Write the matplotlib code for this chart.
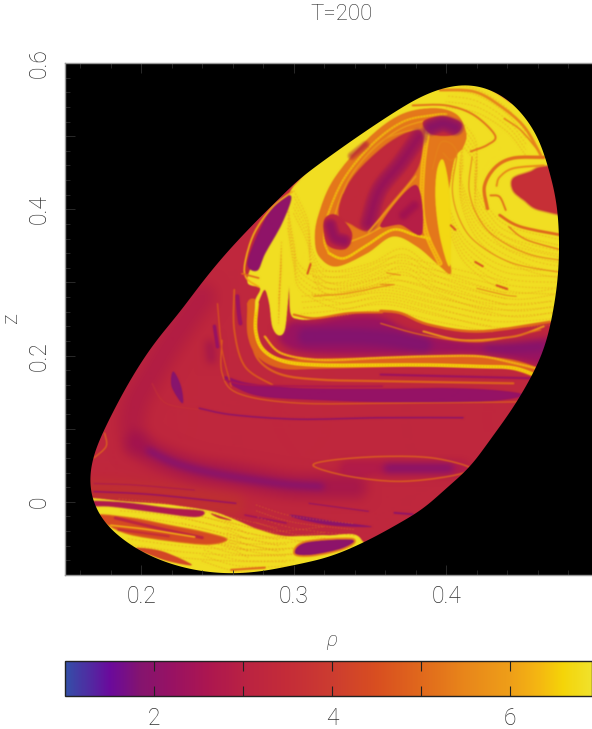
import numpy as np
import matplotlib
matplotlib.use("Agg")
import matplotlib.pyplot as plt
from matplotlib.figure import Figure
from matplotlib.backends.backend_agg import FigureCanvasAgg
from matplotlib.path import Path
from matplotlib.patches import PathPatch
from matplotlib.colors import LinearSegmentedColormap, Normalize
from matplotlib.cm import ScalarMappable
from matplotlib.ticker import MultipleLocator, FixedLocator, FixedFormatter

W, H = 592, 729
plt.rcParams['font.family'] = ['Roboto', 'Liberation Sans', 'DejaVu Sans']
plt.rcParams['font.weight'] = 'light'
TXT = '#2e2e2e'

# colour scale
CB_VALUES = [1.0, 1.5, 1.84, 2.2, 2.6, 3.1, 3.5, 4.0, 4.5, 5.0, 5.5, 6.0, 6.3, 6.6, 6.92]
CB_COLORS = ['#3350a8', '#6a0a9c', '#84146f', '#981263', '#ac1650', '#bc2440', '#c42c38', '#cc3c30',
             '#d84e20', '#e0681c', '#e8861a', '#ee9e18', '#f4b412', '#f4d408', '#f0e22c']
VMIN, VMAX = 1.0, 6.92
CB_TICKS = [2, 3, 4, 5, 6]
CB_LABELS = ['2', '', '4', '', '6']
X_TICKS = [0.2, 0.3, 0.4]
Y_TICKS = [-0.1, 0.0, 0.1, 0.2, 0.3, 0.4, 0.5, 0.6]
Y_LABELS = ['', '0', '', '0.2', '', '0.4', '', '0.6']

# density-region outlines, (rho, z)
BOUNDARY = [(.1660,.039),(.1665,.017),(.1675,.005),(.176,-.029),(.196,-.063),(.218,-.084),(.240,-.095),(.260,-.098),
            (.279,-.095),(.301,-.086),(.325,-.074),(.354,-.047),(.369,-.029),(.385,-.0097),(.400,.019),(.415,.046),
            (.427,.080),(.440,.117),(.449,.146),(.457,.176),(.464,.208),(.469,.249),(.473,.303),(.474,.358),
            (.472,.413),(.466,.463),(.460,.499),(.449,.533),(.435,.558),(.416,.571),(.400,.567),(.387,.558),
            (.370,.538),(.348,.508),(.326,.476),(.304,.442),(.295,.424),(.270,.372),(.248,.321),(.222,.251),
            (.210,.221),(.193,.167),(.176,.100),(.169,.066)]
BRIGHT_TOP = [(.358,.260),(.336,.257),(.314,.250),(.303,.250),(.298,.258),(.297,.294),(.296,.271),(.294,.235),(.290,.228),
              (.286,.240),(.284,.271),(.281,.290),(.277,.274),(.275,.258),(.275,.276),(.278,.292),(.270,.299),(.272,.320),
              (.281,.350),(.292,.390),(.298,.425),(.306,.445),(.33,.50),(.36,.62),(.50,.62),(.50,.245),(.468,.246),
              (.422,.233),(.389,.242),(.370,.258)]
VORTEX_OUT = [(.413,.504),(.407,.529),(.392,.538),(.370,.529),(.348,.495),(.326,.440),(.316,.390),(.314,.358),(.317,.335),
              (.328,.322),(.348,.340),(.365,.363),(.381,.349),(.396,.322),(.403,.313),(.401,.349),(.401,.403),(.403,.445),
              (.406,.472),(.411,.485)]
WEDGE = [(.394,.453),(.398,.467),(.402,.426),(.403,.367),(.402,.322),(.396,.362),(.393,.413)]
WEDGE_STRIP = [(.388,.508),(.385,.463),(.384,.408),(.387,.367),(.396,.326)]
HOOK = [(.391,.455),(.396,.490),(.403,.490),(.407,.477),(.403,.467),(.398,.477)]
RING_A = [(.400,.530),(.392,.529),(.372,.520),(.352,.490),(.333,.442),(.322,.390),(.320,.358),(.323,.340)]
RING_A2 = [(.395,.525),(.372,.512),(.352,.482),(.336,.440),(.327,.392),(.326,.360)]
RING_B = [(.323,.340),(.333,.333),(.348,.351),(.365,.372),(.379,.365),(.389,.360)]
RING_C = [(.328,.349),(.346,.363),(.365,.381),(.385,.372)]
RING_D = [(.383,.511),(.359,.495),(.340,.454),(.332,.422)]
LEAF = [(.383,.506),(.374,.504),(.359,.485),(.341,.449),(.332,.417),(.330,.390),(.337,.381),(.349,.372),(.361,.403),
        (.379,.449),(.384,.481)]
LEAF_CORE = [(.382,.499),(.370,.463),(.356,.426),(.349,.381)]
DIAGONAL = [(.349,.369),(.363,.403),(.380,.445)]
TRI = [(.357,.379),(.380,.433),(.384,.367),(.370,.379)]
TRI_DARK = [(.372,.392),(.379,.405)]
FOOT = [(.320,.385),(.322,.352),(.334,.346),(.338,.368),(.328,.392)]
FOOT_LINE = [(.324,.378),(.327,.362),(.333,.357)]
TOP_POLY = [(.385,.520),(.398,.527),(.410,.517),(.405,.502),(.390,.503)]
TOP_LINE = [(.390,.512),(.398,.517),(.406,.512)]
UP_DARK = [(.338,.473),(.347,.488)]
EYE = [(.444,.442),(.455,.451),(.464,.458),(.49,.458),(.49,.395),(.462,.399),(.451,.413),(.444,.426)]
SWIRL = [(.464,.471),(.444,.470),(.432,.457),(.425,.431),(.427,.401)]
SWIRL_IN = [(.464,.460),(.444,.456),(.435,.444),(.433,.432)]
SWIRL_HOOK = [(.429,.419),(.435,.417),(.439,.399)]
LOW_SW = [(.435,.392),(.449,.376),(.48,.363)]
LOW_SW2 = [(.441,.376),(.453,.358),(.48,.342)]
S_CURVE = [(.378,.542),(.400,.542),(.418,.529),(.432,.501),(.427,.488),(.416,.479)]
RIM = [(.396,.563),(.418,.561),(.435,.542),(.451,.513),(.462,.474)]
RIM_OUT = [(.407,.574),(.420,.574),(.433,.562),(.443,.548)]
RIM_IN = [(.438,.524),(.449,.508),(.460,.481)]
FLOW_LINES = [[(.407,.472),(.404,.426),(.409,.385),(.420,.354),(.444,.326),(.48,.312)],
              [(.417,.472),(.415,.426),(.422,.385),(.435,.358),(.455,.338),(.48,.329)],
              [(.420,.292),(.438,.283),(.446,.281)],
              [(.313,.281),(.335,.285),(.357,.294),(.366,.297)],
              [(.361,.313),(.370,.310)],
              [(.357,.297),(.365,.297)]]
BLOTCHES = [[(.419,.328),(.424,.322)], [(.403,.378),(.406,.372)], [(.433,.296),(.440,.291)], [(.309,.312),(.311,.325)]]
GRAIN_UP = [[(.411,.476),(.409,.435),(.416,.390),(.429,.358),(.455,.331),(.48,.320)],
            [(.412,.500),(.420,.472),(.419,.420),(.428,.385),(.442,.360),(.48,.340)],
            [(.400,.555),(.420,.548),(.440,.522),(.452,.490)],
            [(.405,.470),(.399,.420),(.405,.370),(.416,.335),(.440,.305),(.48,.300)],
            [(.300,.410),(.309,.370),(.312,.330),(.322,.300),(.350,.310),(.372,.330),(.395,.300),(.440,.270),(.47,.275)],
            [(.296,.390),(.300,.340),(.305,.305),(.330,.280),(.360,.290),(.390,.275),(.430,.255),(.47,.258)],
            [(.305,.265),(.330,.270),(.360,.278),(.395,.262),(.430,.248)],
            [(.292,.340),(.291,.300),(.290,.260)],
            [(.312,.300),(.340,.300),(.365,.318),(.390,.310),(.440,.285)]]
GRAIN_LOW = [[(.185,-.012),(.215,-.018),(.250,-.033),(.290,-.052)],
             [(.190,-.050),(.225,-.060),(.260,-.065),(.295,-.066)],
             [(.240,-.065),(.265,-.080),(.300,-.080)],
             [(.255,-.042),(.285,-.056),(.320,-.050)],
             [(.225,-.028),(.255,-.045),(.270,-.060)],
             [(.275,-.020),(.300,-.036),(.340,-.046)]]
GRAIN_STRIP = [[(.276,.271),(.275,.235),(.280,.208),(.294,.192),(.318,.187),(.358,.187),(.389,.187),(.422,.185),(.444,.183),(.46,.172)],
               [(.281,.226),(.292,.203),(.318,.194),(.358,.197),(.389,.199),(.422,.199),(.444,.190),(.46,.182)]]
GRAIN_OFFSETS = [-.016, -.008, 0.0, .008, .016]
LEFT_EYE = [(.298,.417),(.288,.408),(.277,.367),(.270,.326),(.276,.317),(.281,.340),(.292,.381)]
EYE_RIM = [(.299,.424),(.286,.403),(.274,.367),(.268,.326),(.269,.306),(.277,.294)]
EYE_RIM2 = [(.266,.312),(.277,.306)]
BLOB = [(.299,.246),(.314,.246),(.336,.254),(.358,.252),(.378,.232),(.422,.217),(.464,.224),(.49,.23),(.49,.18),(.457,.190),
        (.422,.203),(.385,.202),(.357,.201),(.314,.203),(.297,.210),(.290,.224),(.294,.235)]
BLOB_LINE = [(.308,.226),(.340,.226),(.365,.222),(.385,.214)]
BLOB_RLINE = [(.428,.210),(.445,.210),(.462,.212)]
EDGE_A = [(.357,.261),(.370,.258),(.389,.242),(.422,.233),(.468,.246)]
EDGE_B = [(.385,.233),(.411,.221),(.444,.226),(.464,.240)]
EDGE_C = [(.357,.244),(.385,.228),(.422,.219),(.462,.235)]
EDGE_L = [(.300,.256),(.314,.251),(.336,.258),(.358,.259)]
STRIP_UNDER = [(.273,.271),(.273,.230),(.279,.203),(.293,.189),(.318,.189),(.358,.191),(.389,.193),(.422,.192),(.444,.187),(.46,.176)]
STRIP_Y1 = [(.276,.271),(.275,.235),(.280,.208),(.294,.192),(.318,.187),(.358,.187),(.389,.187),(.422,.185),(.444,.183),(.46,.172)]
STRIP_Y2 = [(.281,.226),(.292,.203),(.318,.194),(.358,.197),(.389,.199),(.422,.199),(.444,.190),(.46,.182)]
O1 = [(.270,.271),(.272,.226),(.277,.194),(.292,.174),(.318,.167),(.358,.165),(.444,.162)]
O2 = [(.261,.290),(.261,.235),(.268,.185),(.286,.160)]
O3 = [(.250,.271),(.253,.208),(.259,.158)]
O4 = [(.207,.162),(.216,.135),(.238,.126)]
D1 = [(.263,.281),(.264,.258),(.265,.244)]
D2 = [(.248,.240),(.250,.212)]
D3 = [(.357,.174),(.455,.169)]
D4 = [(.255,.167),(.270,.160),(.314,.158),(.358,.158)]
ARC = [(.253,.221),(.253,.176),(.264,.148),(.303,.135),(.369,.135),(.46,.137)]
BAND = [(.255,.171),(.270,.162),(.303,.155),(.357,.154),(.400,.155),(.433,.152),(.450,.146),(.433,.139),(.400,.137),(.357,.137),
        (.325,.139),(.281,.144),(.262,.157)]
THIN_BAND = [(.238,.128),(.260,.119),(.303,.113),(.357,.115),(.411,.115)]
SLIVER1 = [(.221,.178),(.220,.158),(.227,.135),(.226,.158)]
SLIVER2 = [(.245,.215),(.246,.195)]
TROUGH = [(.197,.080),(.211,.062),(.235,.044),(.262,.035),(.295,.023),(.316,.021),(.340,.021)]
TROUGH_CORE = [(.205,.070),(.222,.053),(.245,.040),(.270,.031),(.295,.024),(.318,.021)]
TROUGH_UP = [(.197,.080),(.194,.107),(.197,.139),(.207,.176),(.220,.221),(.240,.28)]
ELLIPSE = [(.313,.049),(.325,.057),(.358,.062),(.391,.060),(.416,.046),(.402,.035),(.369,.028),(.336,.035)]
ELLIPSE_WIDE = [(.335,.046),(.360,.046),(.385,.046),(.410,.046)]
ELLIPSE_CORE = [(.362,.046),(.380,.046),(.402,.046)]
WARM_LINE = [(.168,.015),(.210,.010),(.260,-.005)]
SMALL_ARC = [(.176,.094),(.177,.076),(.169,.060)]
FINE1 = [(.169,.025),(.196,.023),(.235,.016)]
FINE2 = [(.169,.014),(.207,.010),(.262,-.002)]
FINE3 = [(.268,-.018),(.295,-.029)]
FINE4 = [(.310,-.002),(.349,-.013)]
SL3 = [(.299,-.018),(.327,-.027),(.351,-.034),(.325,-.032),(.303,-.023)]
SL4 = [(.366,-.015),(.378,-.017)]
LOW_BRIGHT = [(.15,.005),(.1675,.005),(.189,.0005),(.218,-.004),(.246,-.013),(.262,-.025),(.277,-.038),(.295,-.047),
              (.322,-.046),(.344,-.051),(.345,-.12),(.15,-.12)]
LOW_R1 = [(.169,.0005),(.192,-.002),(.218,-.009),(.240,-.013),(.235,-.020),(.207,-.013),(.181,-.006),(.169,-.005)]
LOW_R1B = [(.246,-.016),(.259,-.025),(.251,-.022)]
LOW_R2 = [(.172,-.018),(.196,-.023),(.218,-.032),(.240,-.041),(.256,-.051),(.244,-.058),(.218,-.053),(.192,-.044),(.178,-.031)]
LOW_R2A = [(.183,-.022),(.211,-.036),(.240,-.049)]
LOW_R2Y = [(.180,-.032),(.205,-.038),(.235,-.048)]
LOW_R2B = [(.185,-.038),(.218,-.047)]
LOW_R3 = [(.197,-.063),(.214,-.068),(.233,-.086),(.218,-.081),(.203,-.070)]
LOW_R4 = [(.301,-.070),(.308,-.056),(.338,-.052),(.332,-.063),(.312,-.072)]
LOW_R6 = [(.259,-.093),(.281,-.090)]


def smooth(pts, closed=False):
    p = np.array(pts, float)
    n = len(p)
    verts, codes = [p[0]], [Path.MOVETO]
    segs = n if closed else n - 1
    for i in range(segs):
        if closed:
            a, b, c, d = p[(i - 1) % n], p[i], p[(i + 1) % n], p[(i + 2) % n]
        else:
            a, b, c, d = p[max(i - 1, 0)], p[i], p[i + 1], p[min(i + 2, n - 1)]
        verts += [b + (c - a) / 6, c - (d - b) / 6, c]
        codes += [Path.CURVE4] * 3
    return Path(verts, codes)


def outline(pts, win=17, passes=2):
    """Even out reading jitter in the boundary."""
    v = smooth(pts, True).interpolated(12).vertices * np.array([1525.0, 732.0])
    d = np.r_[0, np.cumsum(np.hypot(*np.diff(v, axis=0).T))]
    s = np.linspace(0, d[-1], 720, endpoint=False)
    q = np.c_[np.interp(s, d, v[:, 0]), np.interp(s, d, v[:, 1])]
    ker = np.ones(win) / win
    for _ in range(passes):
        q = np.c_[[np.convolve(np.r_[c[-win:], c, c[:win]], ker, mode='same')[win:-win] for c in q.T]].T
    q = np.vstack([q, q[:1]]) / np.array([1525.0, 732.0])
    return Path(q, closed=True)


cmap = LinearSegmentedColormap.from_list(
    'rho', [((v - VMIN) / (VMAX - VMIN), c) for v, c in zip(CB_VALUES, CB_COLORS)], N=512)
norm = Normalize(VMIN, VMAX)
C = lambda v: cmap(norm(v))
XLIM = (0.15, 0.15 + (W - 65) / 1525)
YLIM = (-0.1, 0.6)
YEL = 6.82

# density layers are painted on an off-screen canvas, softened, then shown with imshow
off = Figure(figsize=((W - 65) / 100, (575 - 63) / 100), dpi=200)
FigureCanvasAgg(off)
oa = off.add_axes([0, 0, 1, 1])
oa.set_xlim(*XLIM); oa.set_ylim(*YLIM); oa.axis('off')
off.patch.set_facecolor(C(3.25))


def fill(pts, v, alpha=1.0):
    oa.add_patch(PathPatch(smooth(pts, True), fc=C(v), ec=C(v), lw=.3, alpha=alpha))


def stroke(pts, v, lw, alpha=1.0, closed=False, ls='-'):
    oa.add_patch(PathPatch(smooth(pts, closed), fc='none', ec=C(v), lw=lw, alpha=alpha, ls=ls, capstyle='round'))


def glow(pts, v, lw, peak=.8, steps=14, closed=False):
    a = 1 - (1 - peak) ** (1 / steps)
    for w in np.linspace(lw, .4, steps):
        stroke(pts, v, w, alpha=a, closed=closed)


def grain(curves, v, offsets, alpha=.6):
    for k, off_z in enumerate(offsets):
        for c in curves:
            shifted = [(x, y + off_z) for x, y in c]
            stroke(shifted, v, .65, alpha=alpha, ls=(k * .7, (.9, 2.3 + .4 * (k % 3))))


def blur(a, r, passes=3):
    a = a.astype(float)
    for _ in range(passes):
        for axis in (0, 1):
            pad = [(r + 1, r)] + [(0, 0)] * (a.ndim - 1)
            b = np.moveaxis(a, axis, 0)
            c = np.cumsum(np.pad(b, pad, mode='edge'), axis=0)
            a = np.moveaxis((c[2 * r + 1:] - c[:-(2 * r + 1)]) / (2 * r + 1), 0, axis)
    return a


def grab():
    off.canvas.draw()
    return np.asarray(off.canvas.buffer_rgba())[:, :, :3].copy()


def bake(r):
    """Soften what is painted so far and keep it as the backdrop of later layers."""
    img = blur(grab(), r).astype(np.uint8)
    for p in list(oa.patches):
        p.remove()
    for i in list(oa.images):
        i.remove()
    oa.imshow(img, extent=(*XLIM, *YLIM), aspect='auto', interpolation='nearest', origin='upper', zorder=0)
    oa.set_xlim(*XLIM); oa.set_ylim(*YLIM)


# diffuse lower body, painted then blurred
glow(WARM_LINE, 3.95, 24, peak=.7)
glow(TROUGH_UP, 2.5, 26, peak=.45, steps=10)
glow(TROUGH, 2.3, 24, peak=.65)
stroke(TROUGH_CORE, 1.75, 4.5, alpha=.9)
glow(SLIVER2, 2.2, 9, peak=.6)
stroke(ELLIPSE_WIDE, 2.8, 11)
stroke(ELLIPSE_CORE, 1.95, 7)
fill(BLOB, 2.25)
stroke(BLOB_LINE, 1.85, 12)
stroke(BLOB_RLINE, 1.9, 7)
bake(6)

# sharper features of the lower body
stroke(SMALL_ARC, 5.0, .9)
fill(SLIVER1, 1.9)
stroke(ARC, 4.8, .9)
stroke(O4, 3.9, .6, alpha=.7)
fill(BAND, 2.15)
stroke(BAND, 2.15, 1.0, closed=True, alpha=.5)
stroke(THIN_BAND, 2.0, 1.1)
stroke(ELLIPSE, 4.9, 1.0, closed=True)
stroke(FINE1, 2.5, .6)
stroke(FINE2, 2.2, 1.1)
stroke(FINE3, 2.3, 1.1)
stroke(FINE4, 2.1, .8)
fill(SL3, 2.0)
stroke(SL4, 2.0, 1.3)

# lower bright patch
fill(LOW_BRIGHT, YEL)
grain(GRAIN_LOW, 5.4, GRAIN_OFFSETS, alpha=.55)
fill(LOW_R1, 2.7)
stroke(LOW_R1, 2.7, 1.4, closed=True, alpha=.5)
fill(LOW_R1B, 3.6)
fill(LOW_R2, 4.4)
stroke(LOW_R2, 5.0, 1.2, closed=True, alpha=.6)
stroke(LOW_R2A, 3.2, 2.2)
stroke(LOW_R2Y, 6.2, 1.2)
stroke(LOW_R2B, 3.6, 1.6)
fill(LOW_R3, 4.3)
stroke(LOW_R4, 5.4, 3.0, closed=True)
fill(LOW_R4, 2.0)
stroke(LOW_R6, 5.0, 1.5)

# strips beneath the bright region
stroke(D2, 2.2, 2.5)
stroke(O3, 4.6, .9)
stroke(O2, 4.7, 1.3)
stroke(D1, 2.3, 3)
stroke(O1, 4.9, 1.6)
stroke(D3, 2.3, 1.6)
stroke(D4, 2.6, 1.2)
stroke(STRIP_UNDER, 4.9, 7.5)
stroke(STRIP_Y1, 6.6, 2.6)
stroke(STRIP_Y2, 6.3, 1.6)
grain(GRAIN_STRIP, 5.2, [0.0], alpha=.6)

# upper bright region and its vortices
fill(BRIGHT_TOP, YEL)
grain(GRAIN_UP, 5.6, GRAIN_OFFSETS, alpha=.55)
stroke(EDGE_A, 5.0, 1.9)
stroke(EDGE_B, 5.8, 1.4)
stroke(EDGE_C, 5.0, .9)
stroke(EDGE_L, 5.0, 1.5)
fill(LEFT_EYE, 2.05)
stroke(LEFT_EYE, 2.05, 1.2, closed=True, alpha=.6)
stroke(EYE_RIM, 6.2, 1.3)
stroke(EYE_RIM2, 5.0, 1.2)

fill(VORTEX_OUT, 5.25)
stroke(WEDGE_STRIP, 6.3, 3.6)
grain([WEDGE_STRIP], 5.0, [0.0], alpha=.6)
fill(WEDGE, 6.7)
stroke(HOOK, 5.4, 1.2)
stroke(RING_A, 6.4, 1.5)
grain([RING_A], 5.0, [0.0], alpha=.6)
stroke(RING_A2, 6.0, 1.0)
stroke(RING_B, 6.6, 1.8)
grain([RING_B], 5.2, [0.0], alpha=.6)
stroke(RING_C, 6.1, 1.2)
glow(UP_DARK, 3.0, 7, peak=.7)
fill(TOP_POLY, 3.4)
fill(FOOT, 3.2)
fill(LEAF, 3.35)
stroke(LEAF, 3.35, 1.6, closed=True, alpha=.5)
stroke(RING_D, 5.7, 1.1)
glow(LEAF_CORE, 2.1, 14, peak=.8)
fill(TRI, 2.9)
glow(TRI_DARK, 2.2, 9, peak=.55)
stroke(DIAGONAL, 5.8, 1.4)
glow(FOOT_LINE, 2.1, 11, peak=.85)
glow(TOP_LINE, 1.9, 13, peak=.9)
fill(EYE, 3.6)
stroke(EYE, 3.6, 2.2, closed=True, alpha=.4)
stroke(SWIRL, 5.1, 2.4)
stroke(SWIRL_IN, 5.6, 1.4)
stroke(SWIRL_HOOK, 5.2, 1.4)
stroke(LOW_SW, 5.0, 2.0)
stroke(LOW_SW2, 5.3, 1.0)
stroke(S_CURVE, 5.2, 1.4)
stroke(RIM, 5.5, 2.0)
stroke(RIM_OUT, 3.0, 3)
stroke(RIM_IN, 5.4, 1.1)
for f in FLOW_LINES:
    stroke(f, 5.4, .7)
for f in BLOTCHES:
    stroke(f, 4.6, 1.5)

raster = blur(grab(), 1, passes=2).astype(np.uint8)

fig = plt.figure(figsize=(W / 100, H / 100), dpi=100)
ax = fig.add_axes([65 / W, 1 - 575 / H, (W - 65) / W, (575 - 63) / H])
ax.set_facecolor('black')
im = ax.imshow(raster, extent=(*XLIM, *YLIM), aspect='auto', interpolation='antialiased', origin='upper')
ax.set_xlim(*XLIM)
ax.set_ylim(*YLIM)
im.set_clip_path(PathPatch(outline(BOUNDARY), transform=ax.transData))

# frame
for s, vis in (('top', True), ('left', True), ('bottom', True), ('right', False)):
    ax.spines[s].set_visible(vis)
    ax.spines[s].set_color('#999999')
    ax.spines[s].set_linewidth(1)
ax.xaxis.set_major_locator(FixedLocator(X_TICKS))
ax.xaxis.set_major_formatter(FixedFormatter([f'{t:.1f}' for t in X_TICKS]))
ax.xaxis.set_minor_locator(MultipleLocator(0.02))
ax.yaxis.set_major_locator(FixedLocator(Y_TICKS))
ax.yaxis.set_major_formatter(FixedFormatter(Y_LABELS))
ax.yaxis.set_minor_locator(MultipleLocator(0.02))
ax.tick_params(which='major', direction='in', length=7, width=.7, color='#2a2a2a', top=True,
               labelsize=16.5, labelcolor=TXT)
ax.tick_params(which='minor', direction='in', length=3.5, width=.6, color='#2a2a2a', top=True)
ax.tick_params(axis='x', pad=7)
ax.tick_params(axis='y', pad=10)
for t in ax.get_yticklabels():
    t.set_rotation(90); t.set_va('center')

fig.text(342 / W, 1 - 14 / H, 'T=200', ha='center', va='center', fontsize=16, color=TXT)
fig.text(12 / W, 1 - 318 / H, 'z', rotation=90, ha='center', va='center', fontsize=16, color=TXT)
fig.text(332 / W, 1 - 641 / H, 'ρ', ha='center', va='center', fontsize=15, style='italic', color=TXT)

# colour bar
cax = fig.add_axes([65 / W, 1 - 696 / H, (W - 65) / W, 35 / H])
cb = fig.colorbar(ScalarMappable(norm=norm, cmap=cmap), cax=cax, orientation='horizontal')
cb.set_ticks(CB_TICKS, labels=CB_LABELS)
cb.outline.set_edgecolor('#222222')
cb.outline.set_linewidth(1)
cb.ax.tick_params(axis='x', which='major', direction='in', length=7, width=.8, color='#222222', labelsize=16.5,
                  labelcolor=TXT, top=True, pad=8)
cb.ax.minorticks_off()

fig.savefig('out.png', dpi=100)
